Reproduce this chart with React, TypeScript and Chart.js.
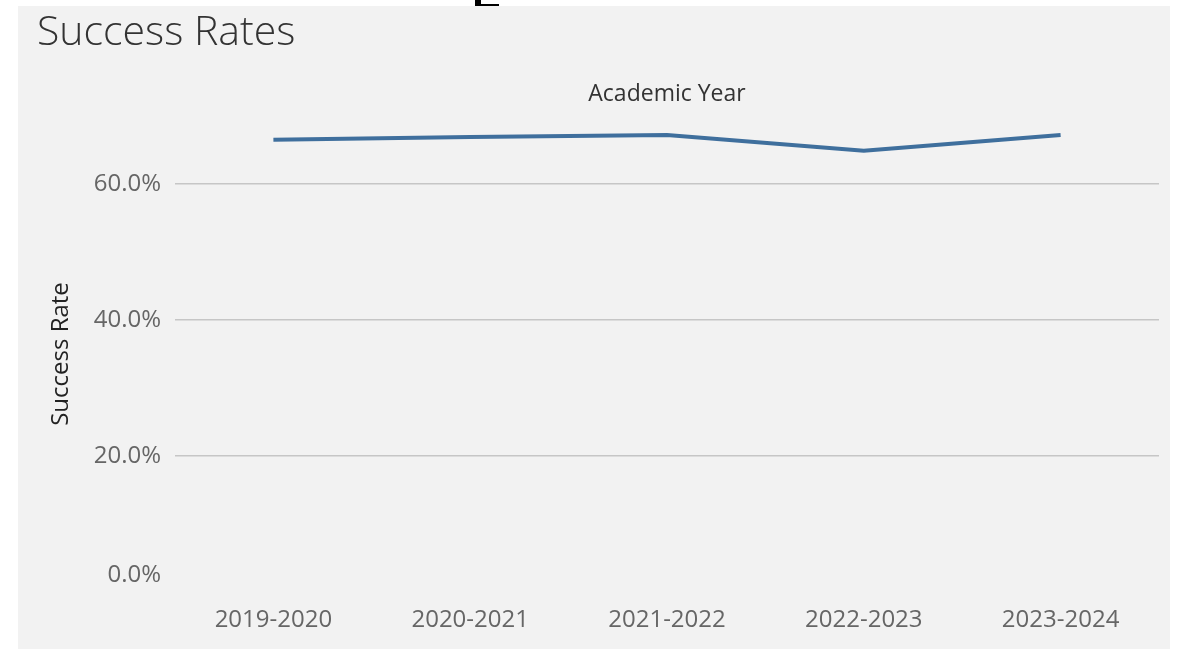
import React, { useEffect, useRef } from "react";
import { Chart, registerables } from "chart.js";

Chart.register(...registerables);

const categories = ["2019-2020", "2020-2021", "2021-2022", "2022-2023", "2023-2024"];
const successRates = [66.5, 66.9, 67.2, 64.9, 67.2];
const yTicks = [0, 20, 40, 60];
const chartTitle = "Success Rates";
const xAxisTitle = "Academic Year";
const yAxisTitle = "Success Rate";

const PANEL_W = 1152;
const PANEL_H = 643;
const PLOT_LEFT = 157;
const PLOT_TOP = 110;
const PLOT_BOTTOM = 586;
const TICK_FONT = 24;

const fmt = (v: number) => v.toFixed(1) + "%";

const zeroLabelPlugin = {
  id: "zeroLabel",
  afterDraw(chart: any) {
    const y = chart.scales.y;
    const ctx = chart.ctx;
    ctx.save();
    ctx.font = `${TICK_FONT}px 'Open Sans'`;
    ctx.fillStyle = "#666666";
    ctx.textAlign = "right";
    ctx.textBaseline = "middle";
    ctx.fillText(fmt(yTicks[0]), y.right - 14, y.getPixelForValue(yTicks[0]) - 17);
    ctx.restore();
  },
};

export default function App() {
  const ref = useRef<HTMLCanvasElement | null>(null);

  useEffect(() => {
    if (!ref.current) return;
    const chart = new Chart(ref.current, {
      type: "line",
      data: {
        labels: categories,
        datasets: [
          {
            data: successRates,
            borderColor: "#3f6f9d",
            borderWidth: 4,
            pointRadius: 0,
            tension: 0,
            fill: false,
            xAxisID: "x",
            yAxisID: "y",
          },
        ],
      },
      plugins: [zeroLabelPlugin],
      options: {
        responsive: false,
        animation: false,
        layout: { padding: { left: 0, right: PANEL_W - 1141, top: 0, bottom: 0 } },
        plugins: { legend: { display: false }, tooltip: { enabled: false } },
        scales: {
          x: {
            type: "category",
            position: "bottom",
            offset: true,
            grid: { display: false, drawTicks: false },
            border: { display: false },
            ticks: {
              color: "#666666",
              font: { family: "'Open Sans'", size: TICK_FONT },
              padding: 14,
              maxRotation: 0,
              autoSkip: false,
            },
            afterFit: (s: any) => {
              s.height = PANEL_H - PLOT_BOTTOM;
            },
          },
          x2: {
            type: "category",
            position: "top",
            labels: categories,
            offset: true,
            grid: { display: false, drawTicks: false },
            border: { display: false },
            ticks: { display: false },
            title: {
              display: true,
              text: xAxisTitle,
              color: "#333333",
              font: { family: "'Open Sans'", size: 23 },
              padding: { top: 75, bottom: 0 },
            },
            afterFit: (s: any) => {
              s.height = PLOT_TOP;
            },
          },
          y: {
            min: 0,
            max: 70,
            afterBuildTicks: (s: any) => {
              s.ticks = yTicks.map((v) => ({ value: v }));
            },
            grid: {
              drawTicks: false,
              color: (c: any) => (c.tick && c.tick.value === 0 ? "rgba(0,0,0,0)" : "#c6c6c6"),
              lineWidth: 1.5,
            },
            border: { display: false },
            ticks: {
              color: "#666666",
              font: { family: "'Open Sans'", size: TICK_FONT },
              padding: 14,
              callback: (v: any) => (Number(v) === 0 ? "" : fmt(Number(v))),
            },
            title: {
              display: true,
              text: yAxisTitle,
              color: "#222222",
              font: { family: "'Open Sans'", size: 24 },
              padding: { top: 29, bottom: 0 },
            },
            afterFit: (s: any) => {
              s.width = PLOT_LEFT;
            },
          },
        },
      },
    } as any);
    return () => chart.destroy();
  }, []);

  return (
    <div style={{ position: "absolute", left: 0, top: 0, width: 1178, height: 657, background: "#ffffff" }}>
      <div style={{ position: "absolute", left: 475, top: 0, width: 6, height: 7, background: "#000" }} />
      <div style={{ position: "absolute", left: 475, top: 4, width: 24, height: 3, background: "#000" }} />
      <div
        style={{
          position: "absolute",
          left: 18,
          top: 6,
          width: PANEL_W,
          height: PANEL_H,
          background: "#f2f2f2",
        }}
      >
        <canvas ref={ref} width={PANEL_W} height={PANEL_H} style={{ display: "block" }} />
        <div
          style={{
            position: "absolute",
            left: 19,
            top: 0,
            fontFamily: "'Open Sans'",
            fontWeight: 300,
            fontSize: 41,
            color: "#333333",
            lineHeight: "46px",
            whiteSpace: "nowrap",
          }}
        >
          {chartTitle}
        </div>
      </div>
    </div>
  );
}
